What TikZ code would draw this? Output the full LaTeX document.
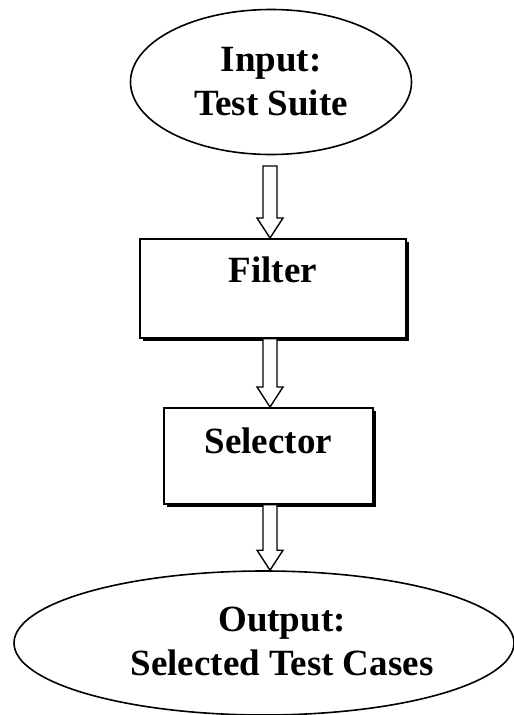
\documentclass[tikz,border=0pt]{standalone}
\usepackage{fontspec}
\setmainfont{Liberation Serif}
\usetikzlibrary{shapes.geometric,calc,shadows}
\tikzset{
  ell/.style={draw=black, line width=1.6pt, ellipse, inner sep=0pt},
  lbl/.style={align=center, inner sep=0pt, font=\bfseries\fontsize{37}{44}\selectfont},
  boxstyle/.style={draw=black, line width=1.6pt, fill=white, rectangle, inner sep=0pt, align=center,
    font=\bfseries\fontsize{37}{44}\selectfont,
    drop shadow={shadow xshift=3pt, shadow yshift=-3pt, fill=black, opacity=1}},
  blockarrow/.style={draw=black, line width=1.4pt, fill=white, line join=miter}
}
\newcommand{\hollowarrow}[2]{%
  \draw[blockarrow] let \p1=(#1), \p2=(#2) in
    (\x1-7pt,\y1) -- (\x1-7pt,\y2+20pt) -- (\x1-13pt,\y2+20pt) -- (\x1,\y2)
    -- (\x1+13pt,\y2+20pt) -- (\x1+7pt,\y2+20pt) -- (\x1+7pt,\y1) -- cycle;}
\begin{document}
\begin{tikzpicture}[x=1pt,y=-1pt]
  \fill[white] (0,0) rectangle (514,715);
  \useasboundingbox (0,0) rectangle (514,715);
  % input ellipse
  \node[ell, lbl, minimum width=281pt, minimum height=145pt] (in) at (271,82) {Input:\\Test Suite};
  % filter box
  \node[boxstyle, anchor=north west, text width=266pt, text height=44pt, text depth=55pt] (filter) at (139,238) {Filter};
  % selector box
  \node[boxstyle, anchor=north west, text width=209pt, text height=46pt, text depth=50pt] (selector) at (163,407) {Selector};
  % output ellipse
  \node[ell, minimum width=500pt, minimum height=144pt] (out) at (264,643) {};
  \node[lbl] (outtext) at (282,641) {Output:\\Selected Test Cases};
  % arrows
  \coordinate (a1) at (270,166);
  \hollowarrow{a1}{filter.north -| a1}
  \hollowarrow{filter.south -| a1}{selector.north -| a1}
  \hollowarrow{selector.south -| a1}{out.north -| a1}
\end{tikzpicture}
\end{document}
